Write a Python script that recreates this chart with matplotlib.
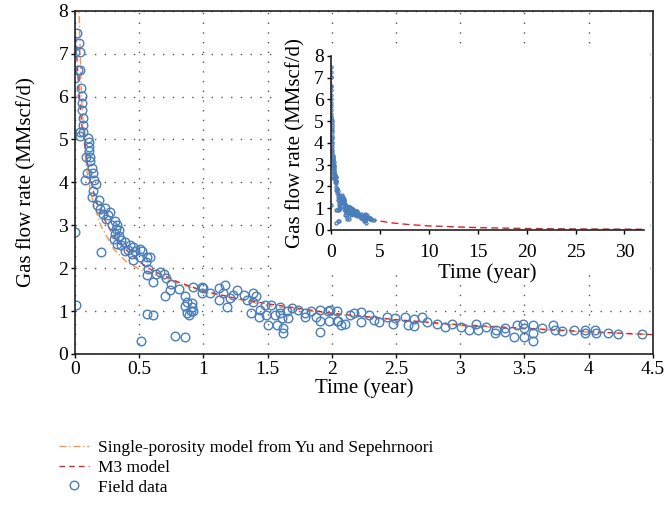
import numpy as np
import matplotlib.pyplot as plt
from matplotlib.patches import Rectangle

plt.rcParams['font.family'] = ['Liberation Serif', 'DejaVu Serif']
plt.rcParams['font.size'] = 14

# field data (time in years, rate in MMscf/d)
t_field = [0.018, 0.031, 0.0, 0.04, 0.02, 0.04, 0.0, 0.047, 0.057, 0.057, 0.057, 0.065, 0.065, 0.065,
           0.042, 0.037, 0.099, 0.11, 0.105, 0.112, 0.117, 0.083, 0.117, 0.13, 0.097, 0.14, 0.08, 0.146,
           0.16, 0.14, 0.132, 0.185, 0.17, 0.195, 0.233, 0.22, 0.26, 0.27, 0.245, 0.31, 0.285, 0.32,
           0.33, 0.34, 0.31, 0.30, 0.34, 0.36, 0.39, 0.33, 0.36, 0.43, 0.45, 0.41, 0.47, 0.39, 0.44,
           0.45, 0.505, 0.52, 0.505, 0.56, 0.585, 0.55, 0.57, 0.56, 0.61, 0.63, 0.66, 0.69, 0.71, 0.75,
           0.74, 0.70, 0.81, 0.86, 0.87, 0.86, 0.91, 0.91, 0.87, 0.9, 0.89, 0.92, 0.0, 0.01, 0.2, 0.56,
           0.61, 0.51, 0.78, 0.86, 0.92, 0.99, 0.99,
           1.0, 1.05, 1.12, 1.17, 1.15, 1.12, 1.18, 1.21, 1.23, 1.26, 1.32, 1.34, 1.39, 1.41, 1.39,
           1.44, 1.37, 1.43, 1.48, 1.53, 1.49, 1.5, 1.56, 1.57, 1.6, 1.6, 1.61, 1.62, 1.62, 1.65, 1.66,
           1.69, 1.74, 1.79, 1.79, 1.84, 1.88, 1.91, 1.91, 1.91, 1.97, 1.99, 2.04, 1.98, 2.04, 2.07,
           2.05, 2.1, 2.14, 2.17, 2.23, 2.23, 2.29, 2.33, 2.37, 2.43, 2.49, 2.48, 2.57, 2.59, 2.64,
           2.64, 2.7, 2.74, 2.82, 2.88, 2.94, 3.01, 3.07, 3.12, 3.14, 3.2,
           3.27, 3.28, 3.35, 3.35, 3.42, 3.44, 3.49, 3.5, 3.5, 3.57, 3.57, 3.57, 3.64, 3.72, 3.74,
           3.79, 3.89, 3.97, 3.97, 4.05, 4.06, 4.15, 4.23, 4.42]
q_field = [7.49, 7.26, 7.05, 7.05, 6.63, 6.63, 6.43, 6.21, 6.02, 5.84, 5.69, 5.51, 5.33, 5.18,
           5.18, 5.07, 5.03, 4.95, 4.83, 4.72, 4.6, 4.6, 4.5, 4.33, 4.21, 4.21, 4.06, 4.06,
           3.96, 3.8, 3.65, 3.6, 3.48, 3.38, 3.4, 3.27, 3.25, 3.3, 3.15, 3.11, 3.0, 2.92,
           3.0, 2.88, 2.8, 2.67, 2.75, 2.65, 2.6, 2.56, 2.54, 2.54, 2.5, 2.43, 2.41, 2.4, 2.32,
           2.2, 2.45, 2.41, 2.25, 2.25, 2.25, 2.14, 1.98, 1.83, 1.68, 1.87, 1.9, 1.87, 1.77, 1.63,
           1.5, 1.36, 1.51, 1.36, 1.22, 1.12, 1.19, 1.1, 0.95, 1.0, 0.9, 1.01, 2.84, 1.14, 2.38, 0.93,
           0.91, 0.31, 0.41, 0.39, 1.57, 1.56, 1.42,
           1.53, 1.41, 1.53, 1.61, 1.41, 1.26, 1.1, 1.3, 1.38, 1.49, 1.38, 1.26, 1.41, 1.34, 1.22,
           1.03, 0.95, 0.87, 1.14, 1.14, 0.91, 0.68, 0.91, 0.68, 1.1, 0.95, 0.83, 0.6, 0.48, 0.99, 0.83,
           1.06, 1.03, 0.95, 0.87, 0.99, 0.87, 1.03, 0.76, 0.52, 0.99, 1.03, 0.99, 0.78, 0.78, 0.68,
           0.78, 0.71, 0.91, 0.95, 0.97, 0.75, 0.92, 0.79, 0.75, 0.87, 0.85, 0.7, 0.87, 0.68, 0.81,
           0.65, 0.87, 0.74, 0.7, 0.62, 0.71, 0.62, 0.56, 0.71, 0.55, 0.62,
           0.48, 0.56, 0.6, 0.52, 0.39, 0.68, 0.71, 0.6, 0.4, 0.68, 0.48, 0.31, 0.6, 0.68, 0.56,
           0.54, 0.56, 0.56, 0.48, 0.56, 0.5, 0.48, 0.47, 0.47]

# M3 model
t_m3 = [0.005, 0.02, 0.05, 0.1, 0.15, 0.2, 0.3, 0.4, 0.5, 0.6, 0.8, 1.0, 1.25, 1.5, 2.0, 2.5,
        3.0, 3.5, 4.0, 4.5, 6, 8, 10, 15, 20, 25, 30, 31.8]
q_m3 = [7.4, 6.6, 5.4, 4.4, 3.7, 3.3, 2.75, 2.42, 2.15, 1.95, 1.68, 1.47, 1.3, 1.17, 0.95, 0.8,
        0.68, 0.6, 0.52, 0.45, 0.33, 0.24, 0.18, 0.1, 0.06, 0.04, 0.03, 0.025]

# single-porosity model (Yu and Sepehrnoori)
t_sp = [0.03, 0.05, 0.08, 0.1, 0.14, 0.2, 0.3, 0.4, 0.5, 0.75, 1.0, 1.5, 2.0, 3.0, 4.0, 4.5]
q_sp = [8.2, 6.0, 4.6, 4.1, 3.55, 3.0, 2.45, 2.15, 1.98, 1.7, 1.45, 1.13, 0.93, 0.66, 0.51, 0.45]

blue = '#4a7ebb'
red = '#d7262b'
orange = '#f79646'

fig = plt.figure(figsize=(6.64, 5.13), dpi=100)
ax = fig.add_axes([0.113, 0.310, 0.870, 0.669])

l1, = ax.plot(t_sp, q_sp, '-.', color=orange, lw=1.0, dashes=(5, 2, 1, 2), label='Single-porosity model from Yu and Sepehrnoori')
l2, = ax.plot(t_m3, q_m3, '--', color=red, lw=1.0, dashes=(4, 3), label='M3 model')
l3, = ax.plot(t_field, q_field, 'o', ms=6.2, mfc='none', mec=blue, mew=1.0, label='Field data')

ax.set_xlim(0, 4.5)
ax.set_ylim(0, 8)
ax.set_xticks(np.arange(0, 4.51, 0.5))
ax.set_xticklabels(['0', '0.5', '1', '1.5', '2', '2.5', '3', '3.5', '4', '4.5'])
ax.set_yticks(range(0, 9))
ax.grid(True, ls=(0, (1, 6)), color='#555555', lw=1.0)
ax.tick_params(direction='out', length=3, width=1, pad=2, labelsize=14)
for s in ax.spines.values():
    s.set_linewidth(1.2)
    s.set_color('#222222')
ax.set_xlabel('Time (year)', fontsize=15, labelpad=0.5)
ax.set_ylabel('Gas flow rate (MMscf/d)', fontsize=15, labelpad=16)

# white patch behind the inset chart
fig.patches.append(Rectangle((0.419, 0.474), 0.56, 0.434, transform=fig.transFigure,
                             facecolor='white', edgecolor='none', zorder=0.5))

ins = fig.add_axes([0.498, 0.552, 0.472, 0.339], zorder=1)
ins.plot(t_m3, q_m3, '--', color=red, lw=1.0, dashes=(5, 3))
ins.plot(t_field, q_field, 'o', ms=2.2, mfc='none', mec=blue, mew=0.9)
ins.set_xlim(0, 32)
ins.set_ylim(0, 8)
ins.set_xticks(range(0, 31, 5))
ins.set_yticks(range(0, 9))
ins.spines['top'].set_visible(False)
ins.spines['right'].set_visible(False)
for s in ['left', 'bottom']:
    ins.spines[s].set_linewidth(1.2)
    ins.spines[s].set_color('#222222')
ins.tick_params(direction='out', length=3, width=1, pad=2, labelsize=14)
ins.tick_params(axis='x', pad=7)
ins.set_xlabel('Time (year)', fontsize=15, labelpad=2)
ins.set_ylabel('Gas flow rate (MMscf/d)', fontsize=15, labelpad=6)
ins.patch.set_alpha(0)

fig.legend(handles=[l1, l2, l3], loc='upper left', bbox_to_anchor=(0.089, 0.142),
           frameon=False, handlelength=1.7, handletextpad=0.55, labelspacing=0.2,
           borderaxespad=0, borderpad=0, fontsize=12.5)

plt.savefig('out.png', dpi=100)
